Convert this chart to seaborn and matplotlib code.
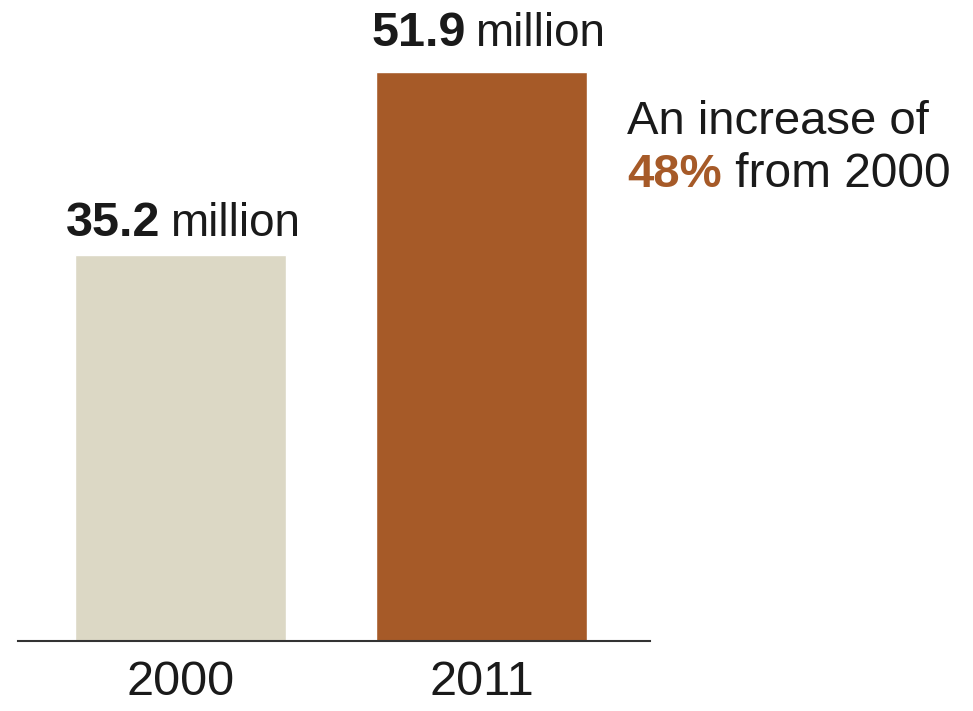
import matplotlib.pyplot as plt
import seaborn as sns

years = ["2000", "2011"]
values = [35.2, 51.9]
bar_colors = ["#DCD8C5", "#A65A28"]
value_labels = ["35.2", "51.9"]
label_lift = [19, 26]  # pixels above bar top
label_shift = [-20, -16]  # right edge of bold number vs bar centre, pixels

sns.set_theme(style="white")
plt.rcParams["font.family"] = ["Liberation Sans", "DejaVu Sans"]

fig = plt.figure(figsize=(9.73, 7.11), dpi=100)
ax = fig.add_axes([0.0185, 0.0985, 0.6495, 0.9015])

sns.barplot(
    x=years,
    y=values,
    hue=years,
    palette=bar_colors,
    width=0.7,
    saturation=1,
    legend=False,
    ax=ax
)

ax.set_xlim(-0.54, 1.56)
ax.set_ylim(0, 58.47)
ax.set_yticks([])
ax.set_xlabel("")
ax.set_ylabel("")

sns.despine(ax=ax, left=True)
ax.spines["bottom"].set_color("#333333")
ax.spines["bottom"].set_linewidth(1.5)
ax.tick_params(axis="x", length=0, pad=14, labelsize=35, labelcolor="#1a1a1a")

# value labels: bold number + regular "million"
for i, (val, lab) in enumerate(zip(values, value_labels)):
    num = ax.annotate(
        lab,
        xy=(i, val),
        xytext=(label_shift[i], label_lift[i]),
        textcoords="offset pixels",
        ha="right",
        va="baseline",
        fontsize=35,
        fontweight="bold",
        color="#1a1a1a"
    )
    ax.annotate(
        "million",
        xy=(1, 0),
        xycoords=num,
        xytext=(10, 0),
        textcoords="offset pixels",
        ha="left",
        va="bottom",
        fontsize=33,
        color="#1a1a1a"
    )

# side note
fig.text(627 / 973, 1 - 134 / 711, "An increase of",
         ha="left", va="baseline", fontsize=34, color="#1a1a1a")
pct = fig.text(627 / 973, 1 - 187 / 711, "48%",
               ha="left", va="baseline", fontsize=34,
               fontweight="bold", color="#A65A28")
ax.annotate(" from 2000", xy=(1, 0), xycoords=pct,
            ha="left", va="bottom", fontsize=34.5, color="#1a1a1a",
            annotation_clip=False)

fig.savefig("out.png", dpi=100, facecolor="white")
